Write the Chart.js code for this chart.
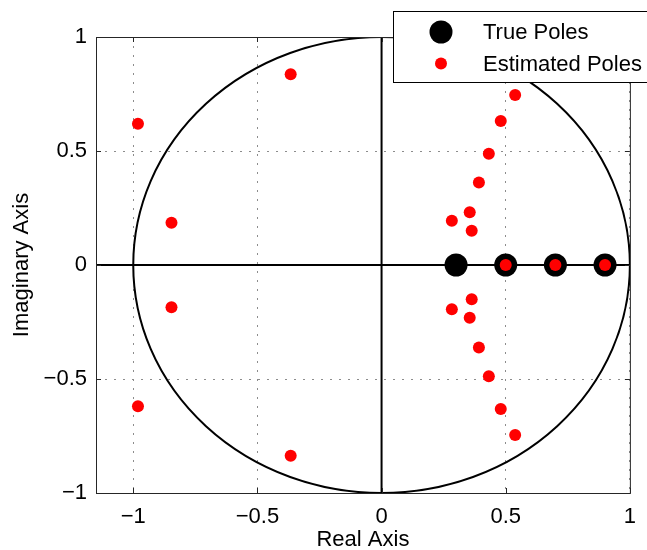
<!DOCTYPE html>
<html>
<head>
<meta charset="utf-8">
<script src="https://cdn.jsdelivr.net/npm/chart.js@4/dist/chart.umd.min.js"></script>
<style>
  body { margin: 0; background: #fff; }
  #wrap { width: 647px; height: 550px; }
</style>
</head>
<body>
<div id="wrap"><canvas id="poles" width="647" height="550"></canvas></div>
<script>
// pole locations
const trueReal = [0.3, 0.5, 0.7, 0.9];
const trueImag = [0, 0, 0, 0];

const estReal = [-0.981, -0.981, -0.846, -0.846, -0.366, -0.366,
  0.538, 0.538, 0.480, 0.480, 0.432, 0.432, 0.392, 0.392,
  0.355, 0.355, 0.283, 0.283, 0.363, 0.363, 0.5, 0.7, 0.9];
const estImag = [0.62, -0.62, 0.185, -0.185, 0.837, -0.837,
  0.746, -0.746, 0.632, -0.632, 0.488, -0.488, 0.362, -0.362,
  0.231, -0.231, 0.194, -0.194, 0.150, -0.150, 0, 0, 0];

const xLimits = [-1.15, 1];
const yLimits = [-1, 1];
const xTicks = [-1, -0.5, 0, 0.5, 1];
const yTicks = [-1, -0.5, 0, 0.5, 1];

const FONT = "'Liberation Sans', Arial, sans-serif";

function toPoints(xs, ys) {
    return xs.map((v, i) => ({x: v, y: ys[i]}));
}

function fmt(v) {
    return String(v).replace('-', '\u2212');
}

// unit circle, box, inward ticks and the legend
const polePlugin = {
    id: 'polePlugin',
    beforeDatasetsDraw(chart) {
        const {ctx, chartArea: a, scales: {x, y}} = chart;
        const cx = x.getPixelForValue(0);
        const cy = y.getPixelForValue(0);
        ctx.save();
        ctx.beginPath();
        ctx.rect(a.left, a.top, a.width, a.height);
        ctx.clip();
        ctx.beginPath();
        ctx.ellipse(cx, cy, x.getPixelForValue(1) - cx, cy - y.getPixelForValue(1), 0, 0, Math.PI * 2);
        ctx.lineWidth = 2;
        ctx.strokeStyle = '#000';
        ctx.stroke();
        ctx.restore();
    },
    afterDraw(chart) {
        const {ctx, chartArea: a, scales: {x, y}} = chart;
        ctx.save();
        ctx.strokeStyle = '#262626';
        ctx.lineWidth = 1;
        ctx.strokeRect(a.left + 0.5, a.top + 0.5, a.width, a.height);

        // inward ticks on all sides
        const tl = 5;
        ctx.beginPath();
        xTicks.forEach(v => {
            const px = Math.round(x.getPixelForValue(v)) + 0.5;
            ctx.moveTo(px, a.bottom); ctx.lineTo(px, a.bottom - tl);
            ctx.moveTo(px, a.top); ctx.lineTo(px, a.top + tl);
        });
        yTicks.forEach(v => {
            const py = Math.round(y.getPixelForValue(v)) + 0.5;
            ctx.moveTo(a.left, py); ctx.lineTo(a.left + tl, py);
            ctx.moveTo(a.right, py); ctx.lineTo(a.right - tl, py);
        });
        ctx.stroke();

        // legend box
        const lx = 393, ly = 11, lw = 270, lh = 71;
        ctx.fillStyle = '#fff';
        ctx.fillRect(lx, ly, lw, lh);
        ctx.strokeStyle = '#000';
        ctx.strokeRect(lx + 0.5, ly + 0.5, lw, lh);

        const items = chart.data.datasets.filter(d => d.inLegend).reverse();
        ctx.font = '22px ' + FONT;
        ctx.textBaseline = 'middle';
        items.forEach((d, i) => {
            const yy = 32 + i * 31.5;
            ctx.beginPath();
            ctx.arc(441, yy, d.pointRadius, 0, Math.PI * 2);
            ctx.fillStyle = d.backgroundColor;
            ctx.fill();
            ctx.fillStyle = '#000';
            ctx.fillText(d.label, 483, yy + 1);
        });
        ctx.restore();
    }
};

new Chart(document.getElementById('poles').getContext('2d'), {
    type: 'scatter',
    data: {
        datasets: [{
            label: 'Estimated Poles',
            inLegend: true,
            data: toPoints(estReal, estImag),
            backgroundColor: '#ff0000',
            borderWidth: 0,
            pointRadius: 6,
            order: 0
        }, {
            label: 'True Poles',
            inLegend: true,
            data: toPoints(trueReal, trueImag),
            backgroundColor: '#000000',
            borderWidth: 0,
            pointRadius: 11.5,
            order: 1
        }, {
            label: 'real axis',
            data: [{x: xLimits[0], y: 0}, {x: xLimits[1], y: 0}],
            showLine: true,
            borderColor: '#000',
            borderWidth: 2,
            pointRadius: 0,
            order: 2
        }, {
            label: 'imag axis',
            data: [{x: 0, y: yLimits[0]}, {x: 0, y: yLimits[1]}],
            showLine: true,
            borderColor: '#000',
            borderWidth: 2,
            pointRadius: 0,
            order: 3
        }]
    },
    options: {
        responsive: false,
        animation: false,
        layout: {padding: {top: 37, right: 17, left: 0, bottom: 0}},
        plugins: {
            legend: {display: false},
            tooltip: {enabled: false}
        },
        scales: {
            x: {
                type: 'linear',
                min: xLimits[0],
                max: xLimits[1],
                afterBuildTicks: s => { s.ticks = xTicks.map(v => ({value: v})); },
                afterFit: s => { s.height = 57; },
                grid: {color: '#8c8c8c', lineWidth: 1, drawTicks: false},
                border: {display: false, dash: [2, 7]},
                ticks: {
                    padding: 11,
                    color: '#000',
                    font: {family: FONT, size: 22},
                    callback: v => fmt(v)
                },
                title: {
                    display: true,
                    text: 'Real Axis',
                    color: '#000',
                    font: {family: FONT, size: 22},
                    padding: {top: 0, bottom: -3}
                }
            },
            y: {
                type: 'linear',
                min: yLimits[0],
                max: yLimits[1],
                afterBuildTicks: s => { s.ticks = yTicks.map(v => ({value: v})); },
                afterFit: s => { s.width = 96; },
                grid: {color: '#8c8c8c', lineWidth: 1, drawTicks: false},
                border: {display: false, dash: [2, 7]},
                ticks: {
                    padding: 9,
                    color: '#000',
                    font: {family: FONT, size: 22},
                    callback: v => fmt(v)
                },
                title: {
                    display: true,
                    text: 'Imaginary Axis',
                    color: '#000',
                    font: {family: FONT, size: 22},
                    padding: {top: 9, bottom: 0}
                }
            }
        }
    },
    plugins: [polePlugin]
});
</script>
</body>
</html>
